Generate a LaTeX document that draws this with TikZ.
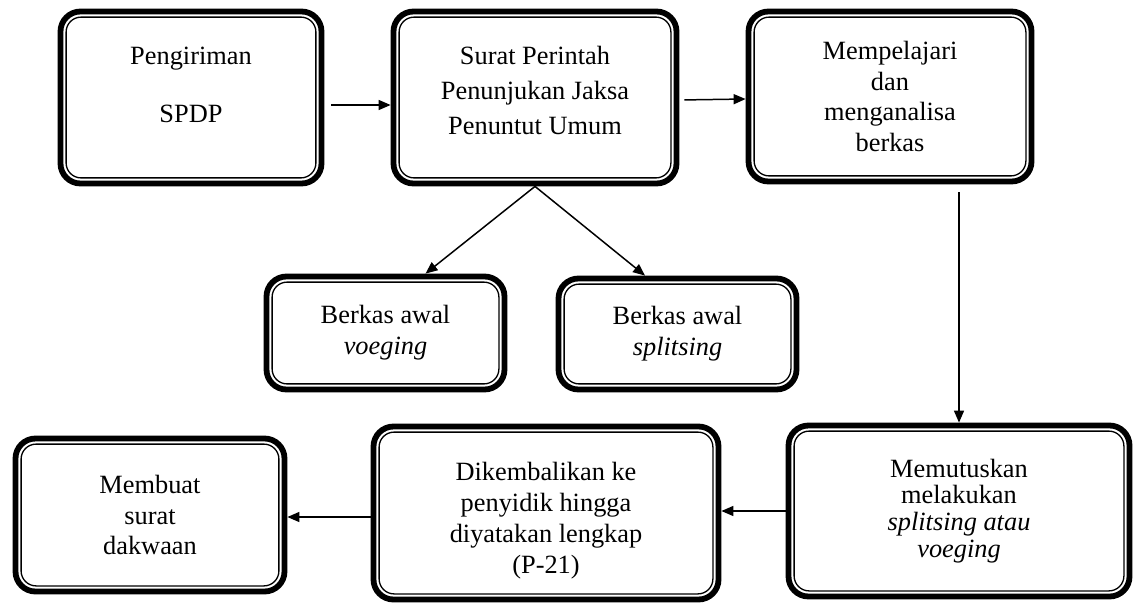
\documentclass[tikz,border=0pt]{standalone}
\usepackage{fontspec}
\setmainfont{Liberation Serif}
\usetikzlibrary{arrows.meta, positioning, calc}

\begin{document}
\begin{tikzpicture}[>={Triangle[length=0.24cm,width=0.2cm]},
  every node/.style={font=\fontsize{15}{17.6}\selectfont},
  kotak/.style={draw, line width=3.3pt, rounded corners=0.4cm, align=center, inner sep=0pt},
  panah/.style={->, line width=0.85pt}]
  \useasboundingbox (0,0) rectangle (22.7,-12.12);

  % baris atas
  \node[kotak, minimum width=5.22cm, minimum height=3.44cm] (kirim) at (3.82,-1.95)
    {Pengiriman\\[0.54cm]SPDP\\[-0.1cm]\mbox{}};
  \node[kotak, minimum width=5.66cm, minimum height=3.44cm] (surat) at (10.7,-1.95)
    {Surat Perintah\\[2.3pt]Penunjukan Jaksa\\[2.3pt]Penuntut Umum\\[-0.32cm]\mbox{}};
  \node[kotak, minimum width=5.66cm, minimum height=3.4cm] (pelajari) at (17.8,-1.93)
    {Mempelajari\\dan\\menganalisa\\berkas};

  % baris tengah
  \node[kotak, minimum width=4.76cm, minimum height=2.26cm] (voeging) at (7.71,-6.66)
    {Berkas awal\\\textit{voeging}};
  \node[kotak, minimum width=4.76cm, minimum height=2.22cm] (splitsing) at (13.55,-6.68)
    {Berkas awal\\\textit{splitsing}};

  % baris bawah
  \node[kotak, minimum width=5.38cm, minimum height=3.06cm] (dakwaan) at (3.0,-10.3)
    {Membuat\\surat\\dakwaan};
  \node[kotak, minimum width=6.9cm, minimum height=3.46cm] (kembali) at (10.92,-10.26)
    {\rule{0pt}{0.68cm}Dikembalikan ke\\penyidik hingga\\diyatakan lengkap\\(P-21)};
  \node[kotak, minimum width=6.82cm, minimum height=3.42cm] (putus) at (19.18,-10.22)
    {Memutuskan\\[-2.4pt]melakukan\\[-2.4pt]\textit{splitsing atau}\\[-2.4pt]\textit{voeging}};

  % garis dalam
  \foreach \n in {kirim,surat,pelajari,voeging,splitsing,dakwaan,kembali,putus}
    \draw[line width=0.75pt, rounded corners=0.3cm]
      ([shift={(0.17cm,0.17cm)}]\n.south west) rectangle ([shift={(-0.17cm,-0.17cm)}]\n.north east);

  % panah
  \draw[panah, shorten <=0.14cm] ([yshift=-0.15cm]kirim.east) -- ([yshift=-0.15cm]surat.west);
  \draw[panah, shorten <=0.1cm] ([yshift=-0.05cm]surat.east) -- ([yshift=-0.05cm]pelajari.west);
  \draw[panah] (surat.south) -- ([xshift=0.8cm]voeging.north);
  \draw[panah] (surat.south) -- ([xshift=-0.65cm]splitsing.north);
  \draw[panah, shorten <=0.16cm] (pelajari.south -| putus.north) -- (putus.north);
  \draw[panah] (putus.west) -- (putus.west -| kembali.east);
  \draw[panah] ([yshift=-0.08cm]kembali.west) -- ([yshift=-0.08cm]kembali.west -| dakwaan.east);
\end{tikzpicture}
\end{document}
